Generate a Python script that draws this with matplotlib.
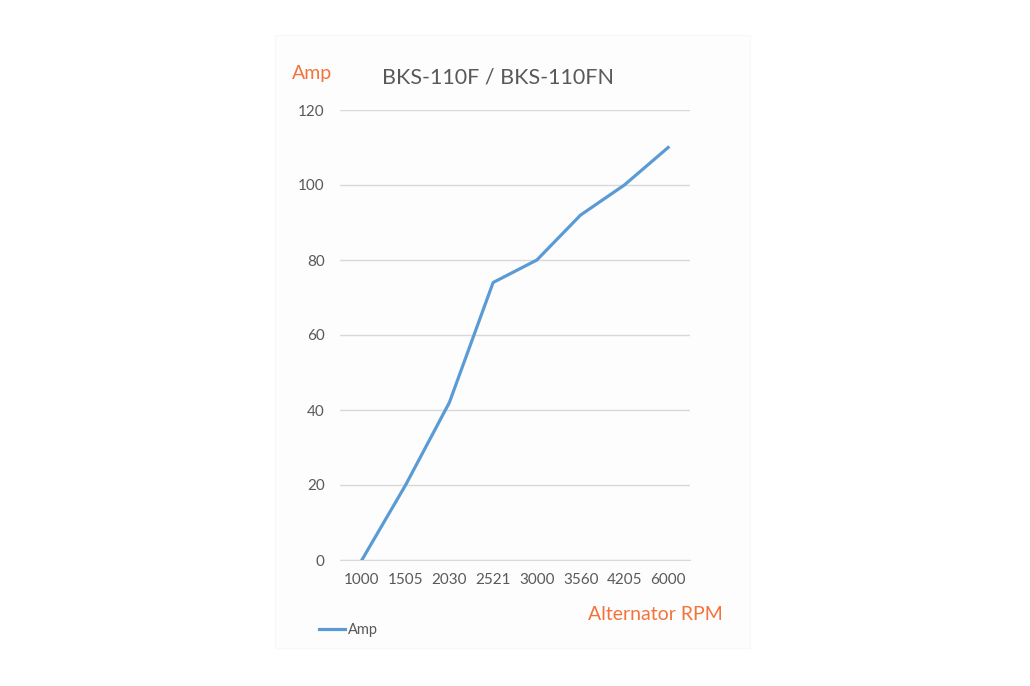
import matplotlib.pyplot as plt
from matplotlib.patches import Rectangle

# chart data
rpm_labels = ["1000", "1505", "2030", "2521", "3000", "3560", "4205", "6000"]
amp_values = [0, 20, 42, 74, 80, 92, 100, 110]
y_ticks = [0, 20, 40, 60, 80, 100, 120]

plt.rcParams['font.family'] = ['Lato', 'DejaVu Sans']

fig = plt.figure(figsize=(10.3, 6.86), dpi=100)
fig.patch.set_facecolor('white')

# faint chart panel
fig.patches.append(Rectangle((275 / 1030, 1 - 648 / 686), 475 / 1030, 613 / 686,
                             transform=fig.transFigure, facecolor='#fdfdfd',
                             edgecolor='#f8f8f8', linewidth=0.8, zorder=-5))

ax = fig.add_axes([340 / 1030, 1 - 560 / 686, 350 / 1030, 450 / 686])
ax.set_zorder(2)
ax.set_facecolor('none')

x = list(range(len(rpm_labels)))
line, = ax.plot(x, amp_values, color='#5b9bd5', linewidth=2.3, solid_joinstyle='round',
                label='Amp', zorder=3)

ax.set_xlim(-0.5, len(rpm_labels) - 0.5)
ax.set_ylim(0, 120)
ax.set_yticks(y_ticks)
ax.set_xticks(x)
ax.set_xticklabels(rpm_labels)
ax.yaxis.grid(True, color='#d9d9d9', linewidth=1.0)
ax.set_axisbelow(True)
for s in ax.spines.values():
    s.set_visible(False)
ax.spines['bottom'].set_visible(True)
ax.spines['bottom'].set_color('#d9d9d9')
ax.tick_params(length=0, labelsize=11, colors='#595959')
ax.tick_params(axis='x', pad=9)
ax.tick_params(axis='y', pad=11)

orange = '#f4733c'
fig.text(498 / 1030, 1 - 78 / 686, 'BKS-110F / BKS-110FN', ha='center', va='center',
         fontsize=15.5, color='#595959', zorder=3)
fig.text(292 / 1030, 1 - 73 / 686, 'Amp', ha='left', va='center', fontsize=14,
         color=orange, zorder=3)
fig.text(723 / 1030, 1 - 614 / 686, 'Alternator RPM', ha='right', va='center',
         fontsize=14, color=orange, zorder=3)

# legend below plot
leg = fig.legend(handles=[line], labels=['Amp'], loc='center left',
                 bbox_to_anchor=(306 / 1030, 1 - 630 / 686), frameon=False,
                 fontsize=10.5, labelcolor='#595959', handlelength=1.8, handletextpad=0.2)
leg.set_zorder(3)

fig.savefig('out.png', dpi=100, facecolor='white')
